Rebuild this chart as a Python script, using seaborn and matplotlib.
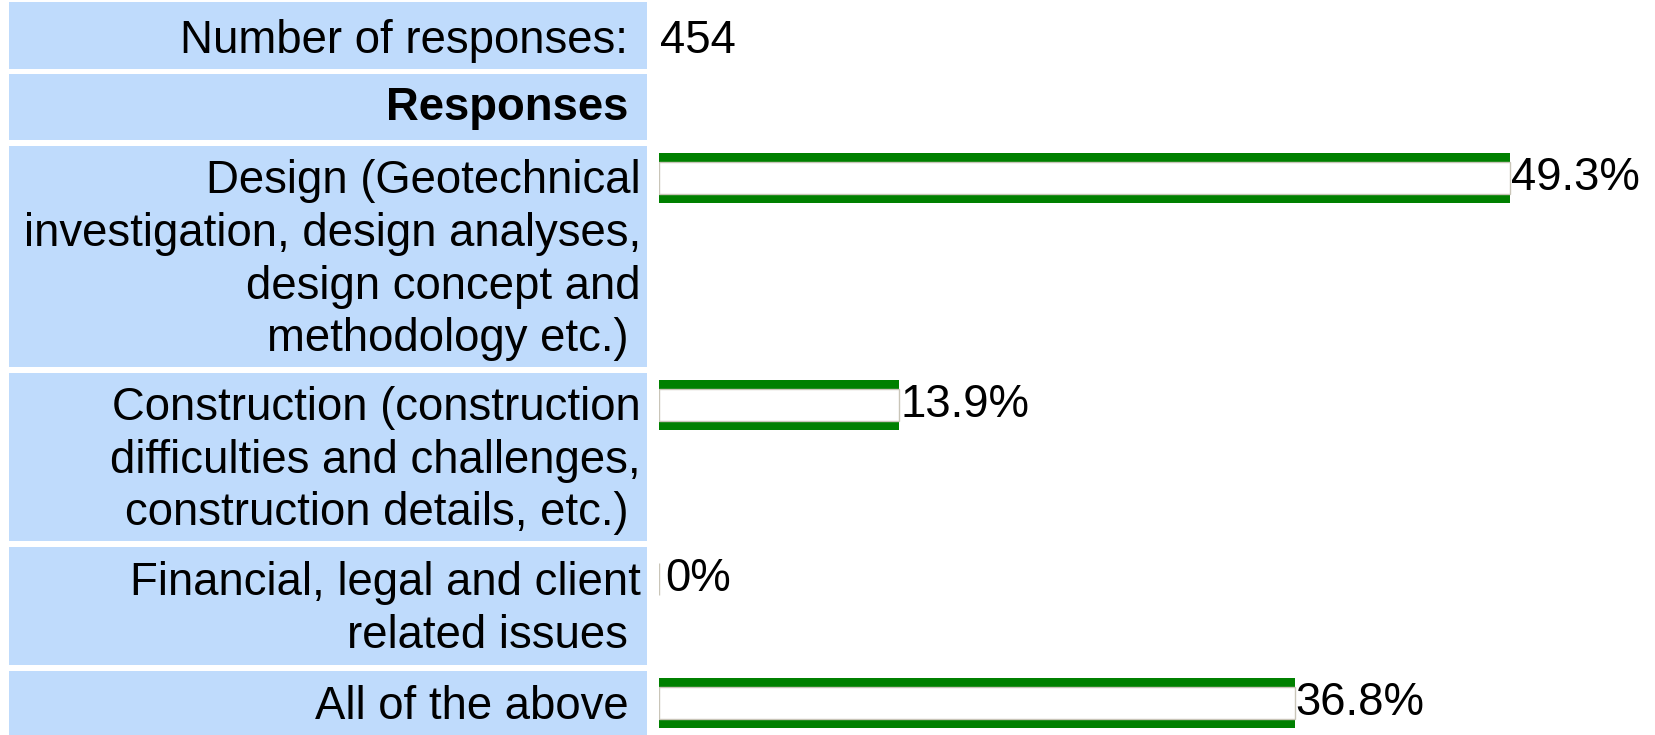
import matplotlib
matplotlib.use("Agg")
import matplotlib.pyplot as plt
from matplotlib.patches import Rectangle
import seaborn as sns
import pandas as pd

# ---- data ----
n_responses = 454
header_label = "Number of responses: "
section_label = "Responses "
categories = [
    "Design (Geotechnical\ninvestigation, design analyses,\ndesign concept and\nmethodology etc.) ",
    "Construction (construction\ndifficulties and challenges,\nconstruction details, etc.) ",
    "Financial, legal and client\nrelated issues ",
    "All of the above ",
]
percents = [49.3, 13.9, 0.0, 36.8]
value_labels = ["49.3%", "13.9%", "0%", "36.8%"]

# ---- layout (pixels, top-origin) ----
W, H = 1656, 735
DPI = 100
header_rows = [(2, 69), (74, 140)]
cat_rows = [(146, 367), (373, 541), (547, 665), (671, 735)]
cell_x0, cell_x1 = 9, 647
text_right = 641
bar_x0 = 659
px_per_pct = 17.27
bar_h = 50
bar_off = 7
line_pitch = 52.6
baseline_shift = 15.7

cell_color = "#bfdbfc"
green = "#008000"
border = "#c9c5b8"
fs = 32.8
font = ["Liberation Sans", "DejaVu Sans"]

sns.set_theme(style="white")
plt.rcParams["font.family"] = font

fig = plt.figure(figsize=(W / DPI, H / DPI), dpi=DPI)
bg = fig.add_axes([0, 0, 1, 1])
bg.set_xlim(0, W)
bg.set_ylim(H, 0)
bg.axis("off")

for (y0, y1) in header_rows + cat_rows:
    bg.add_patch(Rectangle((cell_x0, y0), cell_x1 - cell_x0, y1 - y0,
                           facecolor=cell_color, edgecolor="none"))

# header texts
y0, y1 = header_rows[0]
bg.text(text_right, (y0 + y1) / 2 + 5, header_label, ha="right", va="center",
        fontsize=fs, color="black")
bg.text(bar_x0 + 1, (y0 + y1) / 2 + 5, str(n_responses), ha="left", va="center",
        fontsize=fs, color="black")
y0, y1 = header_rows[1]
bg.text(text_right, (y0 + y1) / 2 + 1, section_label, ha="right", va="center",
        fontsize=fs, fontweight="bold", color="black")

# category labels, one text per wrapped line
for cat, (y0, y1) in zip(categories, cat_rows):
    lines = cat.split("\n")
    n = len(lines)
    mid = (y0 + y1) / 2 + baseline_shift
    for i, line in enumerate(lines):
        bg.text(text_right, mid + (i - (n - 1) / 2) * line_pitch, line,
                ha="right", va="baseline", fontsize=fs, color="black")

# bars
xmax = (W - bar_x0) / px_per_pct
for cat, val, lab, (y0, y1) in zip(categories, percents, value_labels, cat_rows):
    top = y0 + bar_off
    ax = fig.add_axes([bar_x0 / W, 1 - (top + bar_h) / H,
                       (W - bar_x0) / W, bar_h / H])
    df = pd.DataFrame({"cat": [cat], "pct": [val]})
    sns.barplot(data=df, x="pct", y="cat", orient="h", ax=ax, width=1.0,
                color=green, saturation=1, edgecolor="none", linewidth=0)
    sns.barplot(data=df, x="pct", y="cat", orient="h", ax=ax, width=0.63,
                color="white", saturation=1, edgecolor=border, linewidth=1.0)
    ax.set_xlim(0, xmax)
    ax.set_ylim(0.5, -0.5)
    ax.axis("off")
    off = 6 if val == 0 else 1
    ax.annotate(lab, xy=(val, 0), xytext=(off * 72 / DPI, 0),
                textcoords="offset points", ha="left", va="center",
                fontsize=fs, color="black", annotation_clip=False)

fig.savefig("out.png", dpi=DPI)
